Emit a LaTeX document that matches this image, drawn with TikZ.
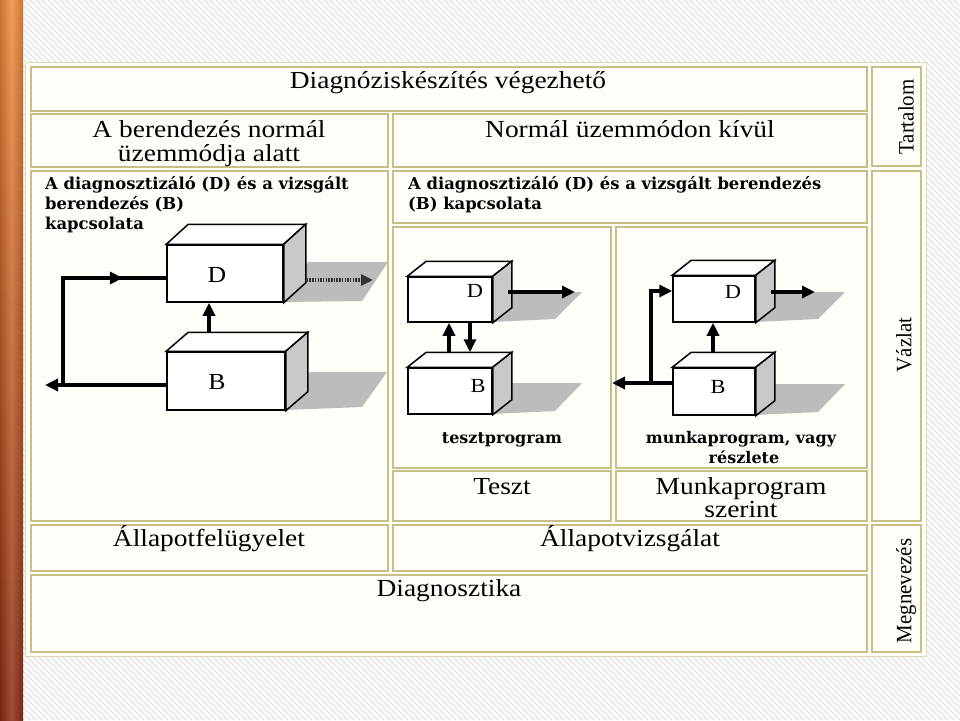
\documentclass[tikz,border=0pt]{standalone}
\usepackage{fontspec}
\setmainfont{Liberation Serif}
\newfontfamily\bigf[FakeStretch=1.12]{Liberation Serif}
\newfontfamily\vertf[FakeStretch=0.95]{Liberation Serif}
\newfontfamily\smallf{DejaVu Serif}
\usetikzlibrary{arrows.meta,calc}
\definecolor{cellline}{RGB}{200,190,135}
\definecolor{cellfill}{RGB}{255,255,249}
\definecolor{hatch}{RGB}{226,226,226}
\definecolor{sidegray}{RGB}{200,200,200}
\definecolor{shadowgray}{RGB}{188,188,188}
\definecolor{orangetop}{RGB}{240,140,60}
\definecolor{orangemid}{RGB}{232,112,40}
\definecolor{orangebot}{RGB}{140,45,20}
\tikzset{
 cell/.style={draw=cellline, line width=1.4pt, fill=cellfill},
 bigtext/.style={font=\bigf\fontsize{24.5}{24}\selectfont, inner sep=0pt, anchor=base},
 smalltext/.style={font=\smallf\bfseries\fontsize{16.4}{20}\selectfont, inner sep=0pt, anchor=base west},
 captext/.style={font=\smallf\bfseries\fontsize{16}{20}\selectfont, inner sep=0pt, anchor=base},
 verttext/.style={font=\vertf\fontsize{22}{22}\selectfont, inner sep=0pt, rotate=90},
 frontbox/.style={draw=black, line width=1.5pt, fill=white, inner sep=0pt},
 boxline/.style={draw=black, line width=1.5pt, line join=miter},
 boxlabel/.style={font=\bigf\fontsize{23}{23}\selectfont, inner sep=0pt},
 boxlabelsm/.style={font=\bigf\fontsize{20}{20}\selectfont, inner sep=0pt},
 shadowfill/.style={fill=shadowgray},
 flow/.style={line width=3.6pt, -{Triangle[length=13pt,width=12pt]}},
 plainline/.style={line width=3.6pt},
 dotflow/.style={line width=3.2pt, black!80, dash pattern=on 1.5pt off 1.2pt, -{Triangle[length=12pt,width=11pt]}},
}
\newcommand\solidbox[3]{%
 \filldraw[boxline,fill=white] (#1.north west) -- ++(#2,-#3) -- ([xshift=#2pt,yshift=#3pt]#1.north east) -- (#1.north east) -- cycle;
 \filldraw[boxline,fill=sidegray] (#1.north east) -- ++(#2,-#3) -- ([xshift=#2pt,yshift=#3pt]#1.south east) -- (#1.south east) -- cycle;}
\begin{document}
\begin{tikzpicture}[x=1pt,y=-1pt]
\useasboundingbox (0,0) rectangle (960,720);
\fill[white] (0,0) rectangle (960,720);
\begin{scope}
\clip (22,0) rectangle (960,720);
\foreach \i in {-720,-714,...,960} \draw[hatch, line width=1.1pt] (\i,0) -- ++(720,720);
\end{scope}
% left strip
\shade[top color=orangetop, middle color=orangemid, bottom color=orangebot] (0,0) rectangle (23,720);
\shade[left color=black, right color=black, middle color=white, opacity=0.15] (0,0) rectangle (23,720);
% table
\fill[cellfill] (25,62) rectangle (926,656);
\draw[cellline!60, line width=1pt] (25,62) rectangle (926,656);
\foreach \a/\b/\c/\d in {31/67/867/111, 872/67/921/166, 31/114/388/167, 393/114/867/167,
  31/171/388/521, 393/171/867/223, 872/171/921/521, 393/227/611/468, 616/227/867/468,
  393/471/611/521, 616/471/867/521, 31/525/388/571, 393/525/867/571, 872/525/921/652,
  31/575/867/652}
  \draw[cell] (\a,\b) rectangle (\c,\d);
% texts
\node[bigtext] (t1) at (448,88) {Diagnóziskészítés végezhető};
\node[bigtext] (t2a) at (209,137) {A berendezés normál};
\node[bigtext] (t2b) at (209,161) {üzemmódja alatt};
\node[bigtext] (t3) at (630,137) {Normál üzemmódon kívül};
\node[smalltext] (s1) at (45,189) {A diagnosztizáló (D) és a vizsgált};
\node[smalltext] (s2) at (45,209) {berendezés (B)};
\node[smalltext] (s3) at (45,229) {kapcsolata};
\node[smalltext] (s4) at (408,189) {A diagnosztizáló (D) és a vizsgált berendezés};
\node[smalltext] (s5) at (408,209) {(B) kapcsolata};
\node[captext] (c1) at (502,443) {tesztprogram};
\node[captext] (c2) at (741,443) {munkaprogram, vagy};
\node[captext] (c3) at (744,463) {részlete};
\node[bigtext] (t5a) at (502,494) {Teszt};
\node[bigtext] (t5b) at (741,494) {Munkaprogram};
\node[bigtext] (t5c) at (741,517) {szerint};
\node[bigtext] (t6a) at (209,546) {Állapotfelügyelet};
\node[bigtext] (t6b) at (630,546) {Állapotvizsgálat};
\node[bigtext] (t7) at (449,596) {Diagnosztika};
\node[verttext] (v1) at (906,117) {Tartalom};
\node[verttext] (v2) at (904,345) {Vázlat};
\node[verttext] (v3) at (906,591) {Megnevezés};
% shadows
\fill[shadowfill] (308,262) -- (388,262) -- (362,301) -- (283,302) -- cycle;
\fill[shadowfill] (310,372) -- (387,372) -- (362,407) -- (285,410) -- cycle;
\fill[shadowfill] (511,292) -- (582,292) -- (555,319) -- (492,322) -- cycle;
\fill[shadowfill] (511,383) -- (582,383) -- (555,411) -- (492,414) -- cycle;
\fill[shadowfill] (774,292) -- (845,292) -- (818,319) -- (755,322) -- cycle;
\fill[shadowfill] (774,384) -- (845,384) -- (818,412) -- (755,415) -- cycle;
% left diagram
\node[frontbox, minimum width=116pt, minimum height=57pt] (dL) at (225,273.5) {};
\solidbox{dL}{22}{20}
\node[boxlabel] (dLl) at (217,275) {D};
\node[frontbox, minimum width=118pt, minimum height=58pt] (bL) at (226,381) {};
\solidbox{bL}{22}{19}
\node[boxlabel] (bLl) at (217,382) {B};
\coordinate (lOut) at (45,385);
\coordinate (lJoin) at (63,385);
\coordinate (dLin) at ([yshift=-4.5pt]dL.west);
\coordinate (lDotEnd) at (373,280);
\draw[flow] ([xshift=-17pt,yshift=19pt]bL.north) -- ([xshift=-16pt]dL.south);
\draw[flow] ([yshift=-4pt]bL.west) -- (lOut);
\draw[plainline] (lJoin) |- (dLin);
\draw[flow] (lJoin |- dLin) -- ($(lJoin |- dLin)!0.58!(dLin)$);
\draw[dotflow] ([xshift=23pt,yshift=-6.5pt]dL.east) -- (lDotEnd);
% middle diagram
\node[frontbox, minimum width=84pt, minimum height=45pt] (dM) at (450,299.5) {};
\solidbox{dM}{19}{15}
\node[boxlabelsm] (dMl) at (475,291) {D};
\node[frontbox, minimum width=84pt, minimum height=46pt] (bM) at (450,391) {};
\solidbox{bM}{19}{15}
\node[boxlabelsm] (bMl) at (478,386) {B};
\coordinate (mOut) at (575,292);
\draw[flow] ([xshift=-1pt,yshift=15pt]bM.north) -- ([xshift=-1pt]dM.south);
\draw[flow] ([xshift=20pt]dM.south) -- ([xshift=20pt,yshift=15pt]bM.north);
\draw[flow] ([xshift=15pt,yshift=7.5pt]dM.east) -- (mOut);
% right diagram
\node[frontbox, minimum width=82pt, minimum height=46pt] (dR) at (714,299) {};
\solidbox{dR}{19}{15}
\node[boxlabelsm] (dRl) at (733,292) {D};
\node[frontbox, minimum width=82pt, minimum height=47pt] (bR) at (714,391.5) {};
\solidbox{bR}{19}{15}
\node[boxlabelsm] (bRl) at (718,387) {B};
\coordinate (rOut) at (815,292);
\coordinate (rOutL) at (612,383);
\coordinate (rJoin) at (651,383);
\coordinate (dRin) at ([yshift=8pt]dR.west);
\draw[flow] ([xshift=-1pt,yshift=15pt]bR.north) -- ([xshift=-1pt]dR.south);
\draw[flow] ([xshift=15pt,yshift=7pt]dR.east) -- (rOut);
\draw[flow] ([yshift=8.5pt]bR.west) -- (rOutL);
\draw[flow] (rJoin) |- (dRin);
\end{tikzpicture}
\end{document}
